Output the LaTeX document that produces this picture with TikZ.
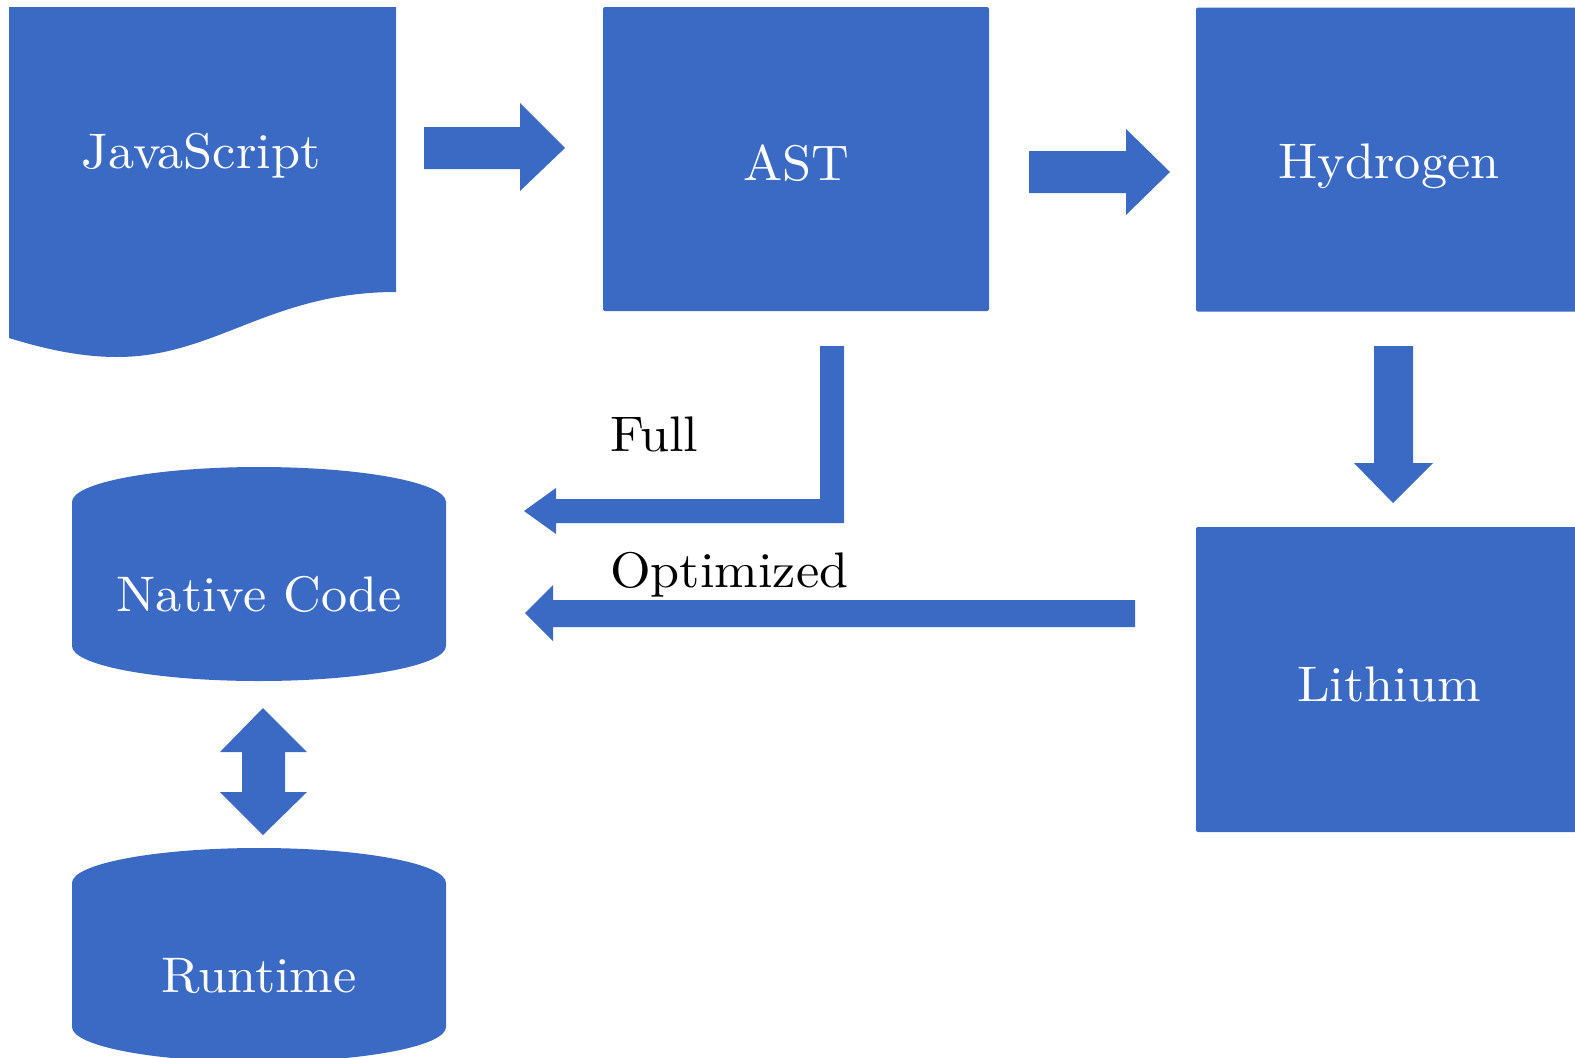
\documentclass[tikz,border=0pt]{standalone}
\usepackage{fontspec}
\newfontfamily\lblfont{lmroman10-regular.otf}[FakeStretch=1.045]
\definecolor{blk}{RGB}{58,106,196}
\begin{document}
\begin{tikzpicture}[x=1pt,y=-1pt,
  fillc/.style={fill=blk, draw=none},
  box/.style={fillc, rounded corners=2pt, minimum width=386pt, minimum height=304pt, inner sep=0pt, shape=rectangle},
  wlbl/.style={text=white, font=\lblfont\fontsize{50}{60}\selectfont, anchor=base, inner sep=0pt},
  blbl/.style={text=black, font=\lblfont\fontsize{50}{60}\selectfont, anchor=base west, inner sep=0pt}]
\useasboundingbox (0,0) rectangle (1575,1058);
\begin{scope}
\clip (0,0) rectangle (1575,1058);
% JavaScript document shape
\fill[blk] (9,7) -- (396,7) -- (396,292) .. controls (270,292) and (215,357) .. (117,357)
  .. controls (75,357) and (35,346) .. (9,338) -- cycle;
\node[wlbl] (js) at (201,168) {JavaScript};
% boxes
\node[box] (ast) at (796,159) {};
\node[wlbl] (astT) at (796,180) {AST};
\node[box] (hyd) at (1389,159.5) {};
\node[wlbl] (hydT) at (1389,178) {Hydrogen};
\node[box, minimum height=305pt] (lit) at (1389,679.5) {};
\node[wlbl] (litT) at (1389,701) {Lithium};
% cylinders
\fill[blk] (72,646) .. controls (72,665.3) and (155.7,681) .. (259,681)
  .. controls (362.3,681) and (446,665.3) .. (446,646) -- (446,502)
  .. controls (446,482.7) and (362.3,467) .. (259,467)
  .. controls (155.7,467) and (72,482.7) .. (72,502) -- cycle;
\node[wlbl] (nat) at (259,611) {Native Code};
\fill[blk] (72,1027) .. controls (72,1046.3) and (155.7,1062) .. (259,1062)
  .. controls (362.3,1062) and (446,1046.3) .. (446,1027) -- (446,883)
  .. controls (446,863.7) and (362.3,848) .. (259,848)
  .. controls (155.7,848) and (72,863.7) .. (72,883) -- cycle;
\node[wlbl] (run) at (259,992) {Runtime};
% block arrows
\fill[blk] (424,127) -- (520,127) -- (520,103) -- (565,148) -- (520,191) -- (520,169) -- (424,169) -- cycle;
\fill[blk] (1029,151) -- (1126,151) -- (1126,129) -- (1170,172) -- (1126,215) -- (1126,193) -- (1029,193) -- cycle;
\fill[blk] (1374,346) -- (1413,346) -- (1413,463) -- (1433,463) -- (1393,503) -- (1354,463) -- (1374,463) -- cycle;
\fill[blk] (820,346) -- (844,346) -- (844,523) -- (556,523) -- (556,534) -- (524,511) -- (556,488) -- (556,499) -- (820,499) -- cycle;
\fill[blk] (1135,600) -- (1135,627) -- (553,627) -- (553,641) -- (525,613) -- (553,585) -- (553,600) -- cycle;
\fill[blk] (263,708) -- (307,752) -- (285,752) -- (285,792) -- (307,792) -- (263,835) -- (220,792) -- (242,792) -- (242,752) -- (220,752) -- cycle;
% labels
\node[blbl] (full) at (610,451) {Full};
\node[blbl] (opt) at (610,587) {Optimized};
\end{scope}
\end{tikzpicture}
\end{document}
